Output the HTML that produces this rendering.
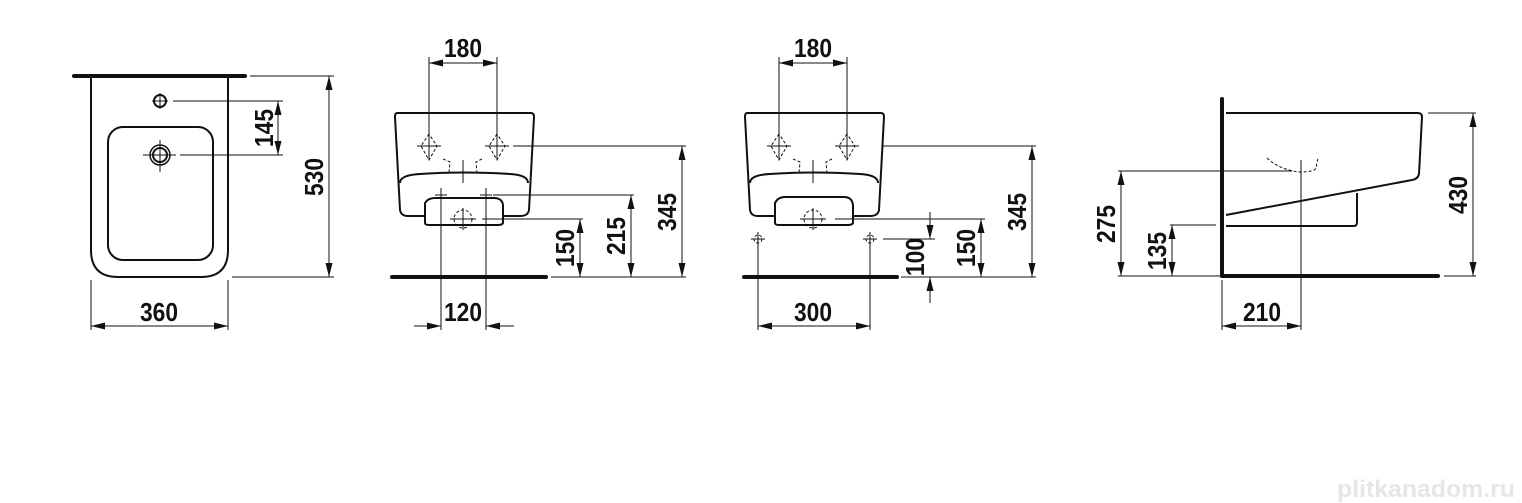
<!DOCTYPE html>
<html><head><meta charset="utf-8"><style>
html,body{margin:0;padding:0;background:#fff;}
svg{display:block}
text{font-family:"Liberation Sans",sans-serif;font-weight:bold;font-size:26px;fill:#111;}
</style></head><body>
<svg width="1522" height="503" viewBox="0 0 1522 503" xmlns="http://www.w3.org/2000/svg">
<defs>
<marker id="a" viewBox="0 0 14 7" refX="14" refY="3.5" markerWidth="14" markerHeight="7" markerUnits="userSpaceOnUse" orient="auto"><path d="M0,0 L14,3.5 L0,7 z" fill="#111"/></marker>
<marker id="s" viewBox="0 0 14 7" refX="0" refY="3.5" markerWidth="14" markerHeight="7" markerUnits="userSpaceOnUse" orient="auto"><path d="M14,0 L0,3.5 L14,7 z" fill="#111"/></marker>
</defs>
<g stroke="#111" fill="none" stroke-width="1">
<!-- VIEW 1 -->
<line x1="74" y1="76" x2="245" y2="76" stroke-width="4" stroke-linecap="round"/>
<path d="M91,78 V250 Q91,277 118,277 H201 Q228,277 228,250 V78" stroke-width="2"/>
<rect x="108" y="127" width="105" height="133" rx="15" stroke-width="2"/>
<circle cx="160" cy="101" r="6" stroke-width="2"/>
<line x1="160" y1="93" x2="160" y2="109"/><line x1="152" y1="101" x2="168" y2="101"/>
<circle cx="160" cy="155" r="10" stroke-width="1.5"/><circle cx="160" cy="155" r="7" stroke-width="2"/>
<line x1="160" y1="140" x2="160" y2="172"/><line x1="143" y1="155" x2="176" y2="155"/>
<line x1="173" y1="101" x2="283" y2="101"/><line x1="180" y1="155" x2="283" y2="155"/>
<line x1="278" y1="101" x2="278" y2="155" marker-start="url(#s)" marker-end="url(#a)"/>
<line x1="250" y1="76" x2="334" y2="76"/><line x1="232" y1="277" x2="334" y2="277"/>
<line x1="329" y1="76" x2="329" y2="277" marker-start="url(#s)" marker-end="url(#a)"/>
<line x1="91" y1="280" x2="91" y2="330"/><line x1="228" y1="280" x2="228" y2="330"/>
<line x1="91" y1="326" x2="228" y2="326" marker-start="url(#s)" marker-end="url(#a)"/>

<!-- VIEW 2 -->
<line x1="429" y1="57" x2="429" y2="160"/><line x1="497" y1="57" x2="497" y2="160"/>
<line x1="429" y1="63" x2="497" y2="63" marker-start="url(#s)" marker-end="url(#a)"/>
<path d="M397,113 H531 Q534,113 534,117 L529,210 Q528,216 520,216 H503 M425,216 H408 Q401,216 400,210 L395,117 Q395,113 397,113" stroke-width="2"/>
<path d="M400,183 Q400,175 420,174 Q463,171 510,174 Q528,175 528,183" stroke-width="2"/>
<path d="M425,223 V203 Q428,198 435,198 H494 Q502,198 503,205 V223 Q502,225 498,225 H430 Q425,225 425,223 Z" stroke-width="2"/>
<g stroke-dasharray="3,2"><path d="M429,134 L421,146 L429,160 L437,146 Z"/><path d="M497,134 L489,146 L497,160 L505,146 Z"/>
<path d="M443,159 L450,162 L449,173 M482,159 L476,162 L477,173"/>
<circle cx="463" cy="219" r="9"/></g>
<line x1="417" y1="146" x2="441" y2="146"/><line x1="485" y1="146" x2="509" y2="146"/>
<line x1="463" y1="160" x2="463" y2="183"/>
<line x1="463" y1="208" x2="463" y2="230"/><line x1="450" y1="219" x2="476" y2="219"/>
<line x1="441" y1="188" x2="441" y2="330"/><line x1="486" y1="188" x2="486" y2="330"/>
<line x1="435" y1="195" x2="447" y2="195"/><line x1="480" y1="195" x2="492" y2="195"/>
<line x1="392" y1="277" x2="546" y2="277" stroke-width="4" stroke-linecap="round"/>
<line x1="513" y1="146" x2="686" y2="146"/><line x1="551" y1="277" x2="686" y2="277"/>
<line x1="682" y1="146" x2="682" y2="277" marker-start="url(#s)" marker-end="url(#a)"/>
<line x1="493" y1="195" x2="634" y2="195"/>
<line x1="631" y1="195" x2="631" y2="277" marker-start="url(#s)" marker-end="url(#a)"/>
<line x1="482" y1="219" x2="583" y2="219"/>
<line x1="580" y1="219" x2="580" y2="277" marker-start="url(#s)" marker-end="url(#a)"/>
<line x1="414" y1="326" x2="441" y2="326" marker-end="url(#a)"/>
<line x1="514" y1="326" x2="486" y2="326" marker-end="url(#a)"/>

<!-- VIEW 3 -->
<line x1="779" y1="57" x2="779" y2="160"/><line x1="847" y1="57" x2="847" y2="160"/>
<line x1="779" y1="63" x2="847" y2="63" marker-start="url(#s)" marker-end="url(#a)"/>
<path d="M747,113 H881 Q884,113 884,117 L879,210 Q878,216 870,216 H853 M775,216 H758 Q751,216 750,210 L745,117 Q745,113 747,113" stroke-width="2"/>
<path d="M750,183 Q750,175 770,174 Q813,171 860,174 Q878,175 878,183" stroke-width="2"/>
<path d="M775,223 V203 Q778,197 785,197 H844 Q852,197 853,205 V223 Q852,225 848,225 H780 Q775,225 775,223 Z" stroke-width="2"/>
<g stroke-dasharray="3,2"><path d="M779,134 L771,146 L779,160 L787,146 Z"/><path d="M847,134 L839,146 L847,160 L855,146 Z"/>
<path d="M793,159 L800,162 L799,173 M832,159 L826,162 L827,173"/>
<circle cx="813" cy="219" r="9"/><circle cx="758" cy="239" r="4"/><circle cx="870" cy="239" r="4"/></g>
<line x1="767" y1="146" x2="791" y2="146"/><line x1="835" y1="146" x2="859" y2="146"/>
<line x1="813" y1="160" x2="813" y2="183"/>
<line x1="813" y1="208" x2="813" y2="230"/><line x1="800" y1="219" x2="826" y2="219"/>
<line x1="758" y1="232" x2="758" y2="330"/><line x1="870" y1="232" x2="870" y2="330"/>
<line x1="751" y1="239" x2="765" y2="239"/><line x1="863" y1="239" x2="877" y2="239"/>
<line x1="744" y1="277" x2="897" y2="277" stroke-width="4" stroke-linecap="round"/>
<line x1="883" y1="146" x2="1036" y2="146"/><line x1="901" y1="277" x2="1036" y2="277"/>
<line x1="1032" y1="146" x2="1032" y2="277" marker-start="url(#s)" marker-end="url(#a)"/>
<line x1="835" y1="219" x2="985" y2="219"/>
<line x1="981" y1="219" x2="981" y2="277" marker-start="url(#s)" marker-end="url(#a)"/>
<line x1="883" y1="239" x2="935" y2="239"/>
<line x1="930" y1="212" x2="930" y2="239" marker-end="url(#a)"/>
<line x1="930" y1="303" x2="930" y2="277" marker-end="url(#a)"/>
<line x1="758" y1="326" x2="870" y2="326" marker-start="url(#s)" marker-end="url(#a)"/>

<!-- VIEW 4 -->
<line x1="1222" y1="99" x2="1222" y2="276" stroke-width="4" stroke-linecap="round"/>
<line x1="1222" y1="276" x2="1438" y2="276" stroke-width="4" stroke-linecap="round"/>
<path d="M1226,113 H1418 Q1422,113 1422,117 L1419,174 Q1418,179 1412,180 L1226,215" stroke-width="2"/>
<path d="M1226,226 H1354 Q1357,226 1357,222 V193" stroke-width="2"/>
<path d="M1267,158 Q1280,170 1300,172 Q1315,172 1316,168 L1318,158" stroke-dasharray="3,2"/>
<line x1="1301" y1="160" x2="1301" y2="330"/>
<line x1="1118" y1="171" x2="1292" y2="171"/>
<line x1="1121" y1="171" x2="1121" y2="276" marker-start="url(#s)" marker-end="url(#a)"/>
<line x1="1118" y1="276" x2="1220" y2="276"/>
<line x1="1170" y1="225" x2="1216" y2="225"/>
<line x1="1172" y1="225" x2="1172" y2="276" marker-start="url(#s)" marker-end="url(#a)"/>
<line x1="1428" y1="113" x2="1476" y2="113"/><line x1="1444" y1="276" x2="1476" y2="276"/>
<line x1="1473" y1="113" x2="1473" y2="276" marker-start="url(#s)" marker-end="url(#a)"/>
<line x1="1222" y1="280" x2="1222" y2="330"/>
<line x1="1222" y1="326" x2="1301" y2="326" marker-start="url(#s)" marker-end="url(#a)"/>
</g>
<!-- labels -->
<g text-anchor="middle">
<text x="159" y="321" textLength="38" lengthAdjust="spacingAndGlyphs">360</text>
<text transform="translate(273,128) rotate(-90)" textLength="38" lengthAdjust="spacingAndGlyphs">145</text>
<text transform="translate(323,177) rotate(-90)" textLength="38" lengthAdjust="spacingAndGlyphs">530</text>
<text x="463" y="57" textLength="38" lengthAdjust="spacingAndGlyphs">180</text>
<text x="463" y="321" textLength="38" lengthAdjust="spacingAndGlyphs">120</text>
<text transform="translate(574,248) rotate(-90)" textLength="38" lengthAdjust="spacingAndGlyphs">150</text>
<text transform="translate(625,236) rotate(-90)" textLength="38" lengthAdjust="spacingAndGlyphs">215</text>
<text transform="translate(676,212) rotate(-90)" textLength="38" lengthAdjust="spacingAndGlyphs">345</text>
<text x="813" y="57" textLength="38" lengthAdjust="spacingAndGlyphs">180</text>
<text x="813" y="321" textLength="38" lengthAdjust="spacingAndGlyphs">300</text>
<text transform="translate(924,257) rotate(-90)" textLength="38" lengthAdjust="spacingAndGlyphs">100</text>
<text transform="translate(975,248) rotate(-90)" textLength="38" lengthAdjust="spacingAndGlyphs">150</text>
<text transform="translate(1026,212) rotate(-90)" textLength="38" lengthAdjust="spacingAndGlyphs">345</text>
<text transform="translate(1115,224) rotate(-90)" textLength="38" lengthAdjust="spacingAndGlyphs">275</text>
<text transform="translate(1166,251) rotate(-90)" textLength="38" lengthAdjust="spacingAndGlyphs">135</text>
<text transform="translate(1467,195) rotate(-90)" textLength="38" lengthAdjust="spacingAndGlyphs">430</text>
<text x="1262" y="321" textLength="38" lengthAdjust="spacingAndGlyphs">210</text>
</g>
<text x="1337" y="497" textLength="178" lengthAdjust="spacingAndGlyphs" style="font-size:24px;fill:#e6e6e6;font-weight:bold">plitkanadom.ru</text>
</svg>
</body></html>
